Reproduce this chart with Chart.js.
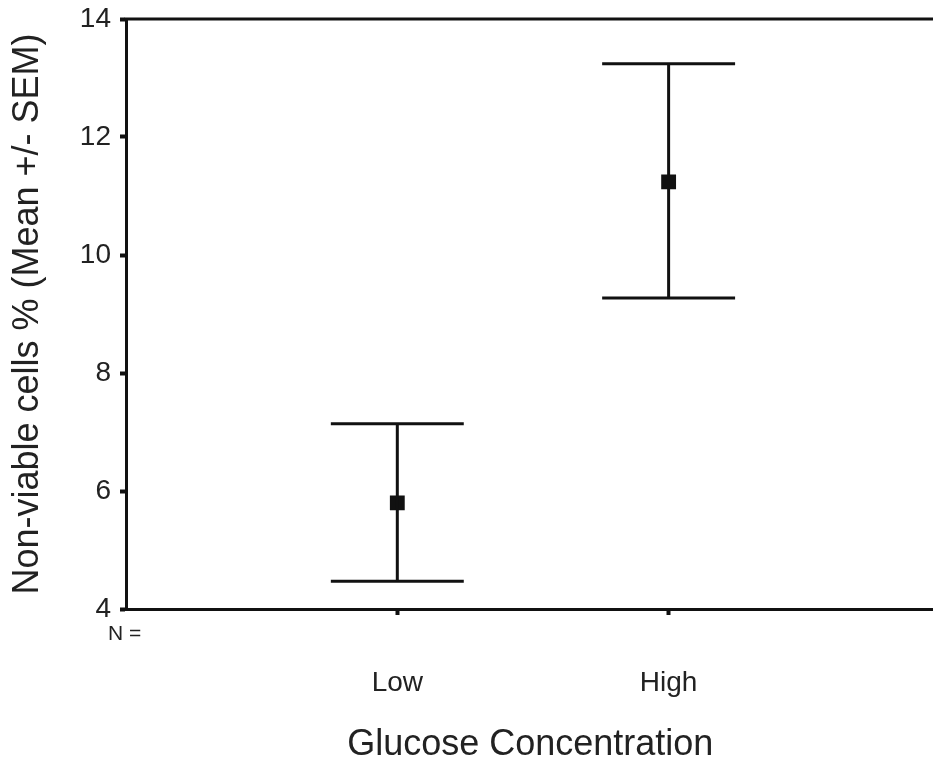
<!DOCTYPE html>
<html><head><meta charset="utf-8">
<script src="https://cdn.jsdelivr.net/npm/chart.js@4"></script>
<style>html,body{margin:0;padding:0;background:#fff;overflow:hidden;width:933px;height:783px}</style>
</head><body>
<canvas id="c" width="945" height="783"></canvas>
<script>
// ---- data ----
const categories = ['Low', 'High'];
const means = [5.80, 11.24];
const upperSEM = [7.14, 13.24];
const lowerSEM = [4.47, 9.27];
const yTickValues = [4, 6, 8, 10, 12, 14];
const nRowLabel = 'N =';
const yTitle = 'Non-viable cells % (Mean +/- SEM)';
const xTitle = 'Glucose Concentration';

// ---- style constants ----
const CAP_HALF = 0.245;   // half-width of error-bar caps in x units
const INK = '#111';
const TEXT = '#222';
const FONT = "'Liberation Sans', Arial, sans-serif";

const xPos = categories.map((c, i) => i + 1);

const lineStyle = {
  type: 'scatter', showLine: true, borderColor: INK, borderWidth: 3,
  pointRadius: 0, fill: false
};
const datasets = [];
categories.forEach((c, i) => {
  const x = xPos[i];
  datasets.push(Object.assign({ data: [{x, y: lowerSEM[i]}, {x, y: upperSEM[i]}] }, lineStyle));
  datasets.push(Object.assign({ data: [{x: x - CAP_HALF, y: upperSEM[i]}, {x: x + CAP_HALF, y: upperSEM[i]}] }, lineStyle));
  datasets.push(Object.assign({ data: [{x: x - CAP_HALF, y: lowerSEM[i]}, {x: x + CAP_HALF, y: lowerSEM[i]}] }, lineStyle));
});
datasets.push({
  type: 'scatter',
  data: categories.map((c, i) => ({x: xPos[i], y: means[i]})),
  pointStyle: 'rect', pointRadius: 10.5, backgroundColor: INK, borderColor: INK, borderWidth: 0,
  showLine: false
});

const framePlugin = {
  id: 'frame',
  afterDraw(chart) {
    const {ctx, chartArea} = chart;
    ctx.save();
    ctx.strokeStyle = INK;
    ctx.lineWidth = 3;
    ctx.beginPath();
    ctx.moveTo(chartArea.left - 1.5, chartArea.top);
    ctx.lineTo(chartArea.right, chartArea.top);
    ctx.stroke();
    ctx.fillStyle = TEXT;
    ctx.font = "21px " + FONT;
    ctx.textAlign = 'left';
    ctx.textBaseline = 'middle';
    ctx.fillText(nRowLabel, 108, 634);
    ctx.restore();
  }
};

new Chart(document.getElementById('c'), {
  type: 'scatter',
  data: { datasets },
  plugins: [framePlugin],
  options: {
    responsive: false,
    animation: false,
    layout: { padding: { top: 19, left: 0, right: 0, bottom: 0 } },
    plugins: { legend: { display: false }, tooltip: { enabled: false } },
    scales: {
      x: {
        type: 'linear', min: 0, max: 2.98,
        afterFit(s) { s.height = 174; s.paddingLeft = 0; s.paddingRight = 0; },
        afterBuildTicks(s) { s.ticks = xPos.map(v => ({ value: v })); },
        grid: { drawOnChartArea: false, drawTicks: true, tickLength: 6, tickWidth: 4, tickColor: INK },
        border: { display: true, color: INK, width: 3 },
        ticks: {
          color: TEXT, font: { family: FONT, size: 28 }, padding: 51,
          callback: (v) => { const i = xPos.indexOf(v); return i >= 0 ? categories[i] : ''; },
          maxRotation: 0, autoSkip: false
        },
        title: { display: true, text: xTitle, color: TEXT, font: { family: FONT, size: 36 }, padding: { top: 0, bottom: 16 } }
      },
      y: {
        type: 'linear', min: 4, max: 14,
        afterFit(s) { s.width = 126; s.paddingTop = 0; s.paddingBottom = 0; },
        afterBuildTicks(s) { s.ticks = yTickValues.map(v => ({ value: v })); },
        grid: { drawOnChartArea: false, drawTicks: true, tickLength: 6, tickWidth: 4, tickColor: INK },
        border: { display: true, color: INK, width: 3 },
        ticks: { color: TEXT, font: { family: FONT, size: 28 }, padding: 9 },
        title: { display: true, text: yTitle, color: TEXT, font: { family: FONT, size: 36 }, padding: { top: 6, bottom: 0 } }
      }
    }
  }
});
</script>
</body></html>
